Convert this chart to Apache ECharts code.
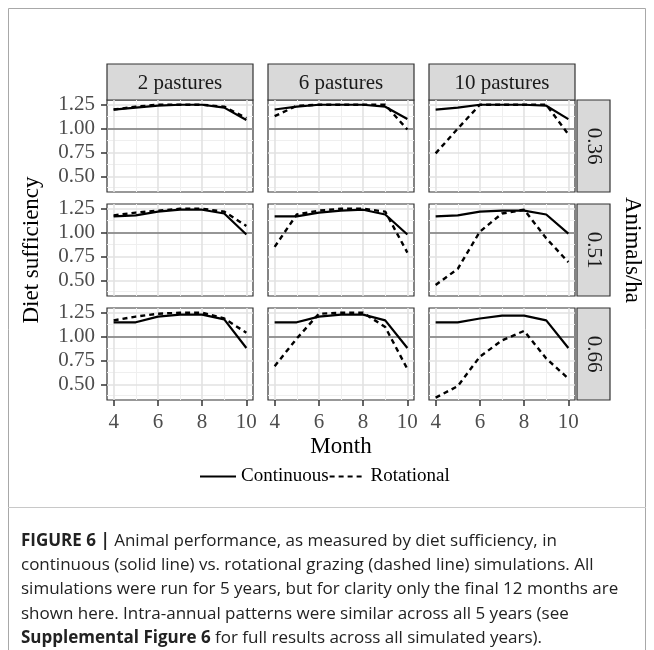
<!DOCTYPE html>
<html>
<head>
<meta charset="utf-8">
<script src="https://cdn.jsdelivr.net/npm/echarts@6/dist/echarts.min.js"></script>
<style>
  html, body { margin: 0; padding: 0; background: #fff; }
  #chart { width: 654px; height: 650px; }
</style>
</head>
<body>
<div id="chart"></div>
<script>
// facet labels and axis ticks
const months = [4, 5, 6, 7, 8, 9, 10];
const pastureLabels = ['2 pastures', '6 pastures', '10 pastures'];
const densityLabels = ['0.36', '0.51', '0.66'];
const xTicks = [4, 6, 8, 10];
const xMinor = [5, 7, 9];
const yTicks = [0.5, 0.75, 1.0, 1.25];
const yMinor = [0.375, 0.625, 0.875, 1.125];

// diet sufficiency, rows = 2 / 6 / 10 pastures
const continuous036 = [
  [1.20, 1.22, 1.24, 1.25, 1.25, 1.22, 1.09],
  [1.20, 1.23, 1.25, 1.25, 1.25, 1.23, 1.10],
  [1.20, 1.22, 1.25, 1.25, 1.25, 1.24, 1.10]
];
const rotational036 = [
  [1.20, 1.23, 1.25, 1.25, 1.25, 1.23, 1.11],
  [1.13, 1.24, 1.25, 1.25, 1.25, 1.25, 0.99],
  [0.74, 1.00, 1.25, 1.25, 1.25, 1.25, 0.94]
];
const continuous051 = [
  [1.17, 1.18, 1.22, 1.24, 1.24, 1.20, 0.98],
  [1.17, 1.17, 1.21, 1.23, 1.24, 1.19, 0.98],
  [1.17, 1.18, 1.22, 1.23, 1.23, 1.19, 0.99]
];
const rotational051 = [
  [1.18, 1.21, 1.23, 1.25, 1.25, 1.22, 1.07],
  [0.85, 1.19, 1.23, 1.25, 1.25, 1.22, 0.79],
  [0.45, 0.62, 1.01, 1.20, 1.24, 0.94, 0.69]
];
const continuous066 = [
  [1.15, 1.15, 1.21, 1.23, 1.23, 1.18, 0.88],
  [1.15, 1.15, 1.21, 1.23, 1.23, 1.17, 0.88],
  [1.15, 1.15, 1.19, 1.22, 1.22, 1.17, 0.88]
];
const rotational066 = [
  [1.17, 1.21, 1.24, 1.25, 1.25, 1.19, 1.04],
  [0.69, 0.98, 1.24, 1.25, 1.25, 1.10, 0.66],
  [0.36, 0.48, 0.79, 0.96, 1.06, 0.77, 0.56]
];

const continuousRows = [continuous036, continuous051, continuous066];
const rotationalRows = [rotational036, rotational051, rotational066];

const colLeft = [107, 268, 429];
const rowTop = [100, 204, 308];
const panelW = 146;
const panelH = 92;
const stripTop = 64;
const serif = 'Liberation Serif';

const chart = echarts.init(document.getElementById('chart'));

const grids = [];
const xAxes = [];
const yAxes = [];
const series = [];

function gridLines(values, axis, color, width) {
  return values.map(v => ({ [axis]: v, lineStyle: { color: color, width: width, type: 'solid' } }));
}

for (let r = 0; r < 3; r++) {
  for (let c = 0; c < 3; c++) {
    const i = r * 3 + c;
    grids.push({
      left: colLeft[c], top: rowTop[r], width: panelW, height: panelH,
      show: true, backgroundColor: '#fff', borderColor: '#333', borderWidth: 1.2
    });
    const bottomRow = r === 2;
    const leftCol = c === 0;
    xAxes.push({
      type: 'value', gridIndex: i, min: 3.7, max: 10.3,
      axisLine: { show: false },
      splitLine: { show: false },
      axisTick: { show: bottomRow, customValues: xTicks, length: 6, lineStyle: { color: '#333', width: 1.5 } },
      axisLabel: { show: bottomRow, customValues: xTicks, margin: 12, fontFamily: serif, fontSize: 21, color: '#4d4d4d' }
    });
    yAxes.push({
      type: 'value', gridIndex: i, min: 0.335, max: 1.30,
      axisLine: { show: false },
      splitLine: { show: false },
      axisTick: { show: leftCol, customValues: yTicks, length: 6, lineStyle: { color: '#333', width: 1.5 } },
      axisLabel: {
        show: leftCol, customValues: yTicks, margin: 12, fontFamily: serif, fontSize: 21, color: '#4d4d4d',
        formatter: v => v.toFixed(2)
      }
    });
    // background grid
    series.push({
      type: 'line', xAxisIndex: i, yAxisIndex: i, data: [], silent: true, z: 1,
      markLine: {
        silent: true, symbol: ['none', 'none'], label: { show: false }, animation: false,
        emphasis: { disabled: true },
        data: [].concat(
          gridLines(xMinor, 'xAxis', '#efefef', 1),
          gridLines(yMinor, 'yAxis', '#efefef', 1),
          gridLines(xTicks, 'xAxis', '#e2e2e2', 1.6),
          gridLines(yTicks, 'yAxis', '#e2e2e2', 1.6)
        )
      }
    });
    // reference line at 1
    series.push({
      type: 'line', xAxisIndex: i, yAxisIndex: i, data: [], silent: true, z: 2,
      markLine: {
        silent: true, symbol: ['none', 'none'], label: { show: false }, animation: false,
        emphasis: { disabled: true },
        data: [{ yAxis: 1, lineStyle: { color: '#7a7a7a', width: 1.5, type: 'solid' } }]
      }
    });
    series.push({
      name: 'Continuous', type: 'line', xAxisIndex: i, yAxisIndex: i, z: 5,
      symbol: 'none', animation: false,
      lineStyle: { color: '#000', width: 2.2, type: 'solid' },
      itemStyle: { color: '#000' },
      data: months.map((m, k) => [m, continuousRows[r][c][k]])
    });
    series.push({
      name: 'Rotational', type: 'line', xAxisIndex: i, yAxisIndex: i, z: 6,
      symbol: 'none', animation: false,
      lineStyle: { color: '#000', width: 2.4, type: [5, 4] },
      itemStyle: { color: '#000' },
      data: months.map((m, k) => [m, rotationalRows[r][c][k]])
    });
  }
}

const graphics = [];
// page frame
graphics.push({ type: 'rect', shape: { x: 8.5, y: 8.5, width: 637, height: 700 }, style: { fill: 'none', stroke: '#a8a8a8', lineWidth: 1 }, z: 0 });
graphics.push({ type: 'line', shape: { x1: 8, y1: 507.5, x2: 646, y2: 507.5 }, style: { stroke: '#c8c8c8', lineWidth: 1 } });

pastureLabels.forEach((label, c) => {
  graphics.push({
    type: 'rect', shape: { x: colLeft[c], y: stripTop, width: panelW, height: rowTop[0] - stripTop },
    style: { fill: '#d9d9d9', stroke: '#333', lineWidth: 1.2 }
  });
  graphics.push({
    type: 'text', x: colLeft[c] + panelW / 2, y: (stripTop + rowTop[0]) / 2 + 1,
    style: { text: label, fontFamily: serif, fontSize: 21, fill: '#1a1a1a', align: 'center', verticalAlign: 'middle' }
  });
});
densityLabels.forEach((label, r) => {
  graphics.push({
    type: 'rect', shape: { x: 577, y: rowTop[r], width: 33, height: panelH },
    style: { fill: '#d9d9d9', stroke: '#333', lineWidth: 1.2 }
  });
  graphics.push({
    type: 'text', x: 594, y: rowTop[r] + panelH / 2, rotation: -Math.PI / 2,
    style: { text: label, fontFamily: serif, fontSize: 21, fill: '#1a1a1a', align: 'center', verticalAlign: 'middle' }
  });
});
const blockMid = (rowTop[0] + rowTop[2] + panelH) / 2;
graphics.push({
  type: 'text', x: 32, y: blockMid, rotation: Math.PI / 2,
  style: { text: 'Diet sufficiency', fontFamily: serif, fontSize: 23, fill: '#000', align: 'center', verticalAlign: 'middle' }
});
graphics.push({
  type: 'text', x: 632, y: blockMid, rotation: -Math.PI / 2,
  style: { text: 'Animals/ha', fontFamily: serif, fontSize: 23, fill: '#000', align: 'center', verticalAlign: 'middle' }
});
graphics.push({
  type: 'text', x: 341, y: 447,
  style: { text: 'Month', fontFamily: serif, fontSize: 23, fill: '#000', align: 'center', verticalAlign: 'middle' }
});

// caption
const captionLines = [
  '{b|FIGURE 6 |} Animal performance, as measured by diet sufficiency, in',
  'continuous (solid line) vs. rotational grazing (dashed line) simulations. All',
  'simulations were run for 5 years, but for clarity only the final 12 months are',
  'shown here. Intra-annual patterns were similar across all 5 years (see',
  '{b|Supplemental Figure 6} for full results across all simulated years).'
];
captionLines.forEach((line, k) => {
  graphics.push({
    type: 'text', x: 21, y: 541 + k * 24.3,
    style: {
      text: line, fontFamily: 'Open Sans', fontSize: 17, fill: '#222', verticalAlign: 'middle',
      rich: { b: { fontFamily: 'Open Sans', fontSize: 17, fontWeight: 'bold', fill: '#222' } }
    }
  });
});

chart.setOption({
  backgroundColor: '#fff',
  animation: false,
  legend: {
    data: ['Continuous', 'Rotational'],
    top: 462, left: 194,
    itemWidth: 36, itemHeight: 14, itemGap: 0,
    itemStyle: { opacity: 0 },
    textStyle: { fontFamily: serif, fontSize: 19, color: '#000' },
    selectedMode: false
  },
  grid: grids,
  xAxis: xAxes,
  yAxis: yAxes,
  series: series,
  graphic: { elements: graphics }
});
</script>
</body>
</html>
